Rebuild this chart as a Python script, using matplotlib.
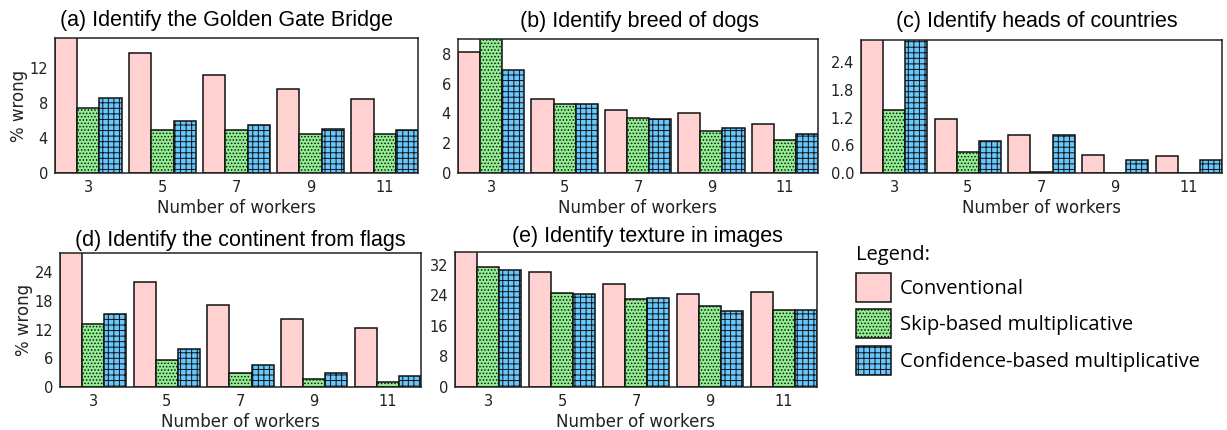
import matplotlib
matplotlib.use("Agg")
import matplotlib.pyplot as plt
import numpy as np

# Data
workers = [3, 5, 7, 9, 11]
methods = ["Conventional", "Skip-based multiplicative", "Confidence-based multiplicative"]

golden_conv = [16.0, 13.8, 11.2, 9.6, 8.5]
golden_skip = [7.5, 4.9, 4.9, 4.5, 4.5]
golden_conf = [8.65, 6.0, 5.5, 5.0, 4.9]

dogs_conv = [8.1, 5.0, 4.25, 4.0, 3.3]
dogs_skip = [9.5, 4.65, 3.7, 2.85, 2.25]
dogs_conf = [6.9, 4.65, 3.6, 3.05, 2.65]

heads_conv = [3.0, 1.17, 0.83, 0.39, 0.37]
heads_skip = [1.37, 0.46, 0.02, 0.0, 0.0]
heads_conf = [3.0, 0.7, 0.83, 0.29, 0.29]

flags_conv = [29.0, 21.9, 17.1, 14.25, 12.4]
flags_skip = [13.1, 5.7, 3.0, 1.75, 1.05]
flags_conf = [15.3, 7.9, 4.6, 2.9, 2.2]

texture_conv = [36.0, 30.2, 27.0, 24.4, 25.0]
texture_skip = [31.5, 24.65, 23.0, 21.15, 20.2]
texture_conf = [30.6, 24.4, 23.25, 20.0, 20.3]

colors = ["#ffd1d1", "#90ee90", "#66c8ff"]
hatches = ["", ".....", "+++"]

plt.rcParams["font.family"] = "DejaVu Sans"
plt.rcParams["hatch.linewidth"] = 0.7

W, H = 1227, 430
fig = plt.figure(figsize=(W / 100, H / 100), dpi=100)


def px_axes(left, top, right, bottom):
    return fig.add_axes([left / W, 1 - bottom / H, (right - left) / W, (bottom - top) / H])


def panel(box, title, title_xy, conv, skip, conf, ytop, yticks, ylabel=False):
    ax = px_axes(*box)
    x = np.array(workers, dtype=float)
    bars = []
    for i, vals in enumerate([conv, skip, conf]):
        b = ax.bar(x + (i - 1) * 0.6, vals, width=0.6, color=colors[i],
                   hatch=hatches[i], edgecolor="#111111", linewidth=1.1,
                   label=methods[i])
        bars.append(b)
    ax.set_xlim(2.1, 11.9)
    ax.set_ylim(0, ytop)
    ax.set_xticks(workers)
    ax.set_yticks(yticks)
    ax.tick_params(length=0, labelsize=10.5, labelcolor="#222222", pad=5)
    for s in ax.spines.values():
        s.set_linewidth(1.1)
        s.set_color("#222222")
    ax.set_xlabel("Number of workers", fontsize=12, color="#222222", labelpad=3)
    if ylabel:
        ax.set_ylabel("% wrong", fontsize=12, color="#222222", labelpad=1)
    fig.text(title_xy[0] / W, 1 - title_xy[1] / H, title, ha="center",
             va="baseline", fontsize=15.5, family="Liberation Sans")
    return ax, bars


panel((55, 38, 418, 173), "(a) Identify the Golden Gate Bridge", (227, 26),
      golden_conv, golden_skip, golden_conf, 15.5, [0, 4, 8, 12], ylabel=True)
panel((458, 39, 818, 173), "(b) Identify breed of dogs", (640, 27),
      dogs_conv, dogs_skip, dogs_conf, 9.0, [0, 2, 4, 6, 8])
ax_c, _ = panel((861, 40, 1222, 173), "(c) Identify heads of countries", (1037, 27),
                heads_conv, heads_skip, heads_conf, 2.88, [0.0, 0.6, 1.2, 1.8, 2.4])
ax_c.set_yticklabels(["0.0", "0.6", "1.2", "1.8", "2.4"])
panel((60, 253, 421, 387), "(d) Identify the continent from flags", (240, 246),
      flags_conv, flags_skip, flags_conf, 28.0, [0, 6, 12, 18, 24], ylabel=True)
ax_e, bars = panel((455, 252, 817, 387), "(e) Identify texture in images", (647, 242),
                   texture_conv, texture_skip, texture_conf, 35.4, [0, 8, 16, 24, 32])

leg = fig.legend(handles=bars, labels=methods, loc="upper left",
                 bbox_to_anchor=(848 / W, 1 - 237 / H), frameon=False,
                 title="Legend:", alignment="left",
                 prop={"family": "Open Sans", "size": 14.5},
                 title_fontproperties={"family": "Open Sans", "size": 14.5},
                 handlelength=1.74, handleheight=1.85, handletextpad=0.45,
                 labelspacing=0.37, borderaxespad=0, borderpad=0.4)

fig.savefig("out.png", dpi=100)
